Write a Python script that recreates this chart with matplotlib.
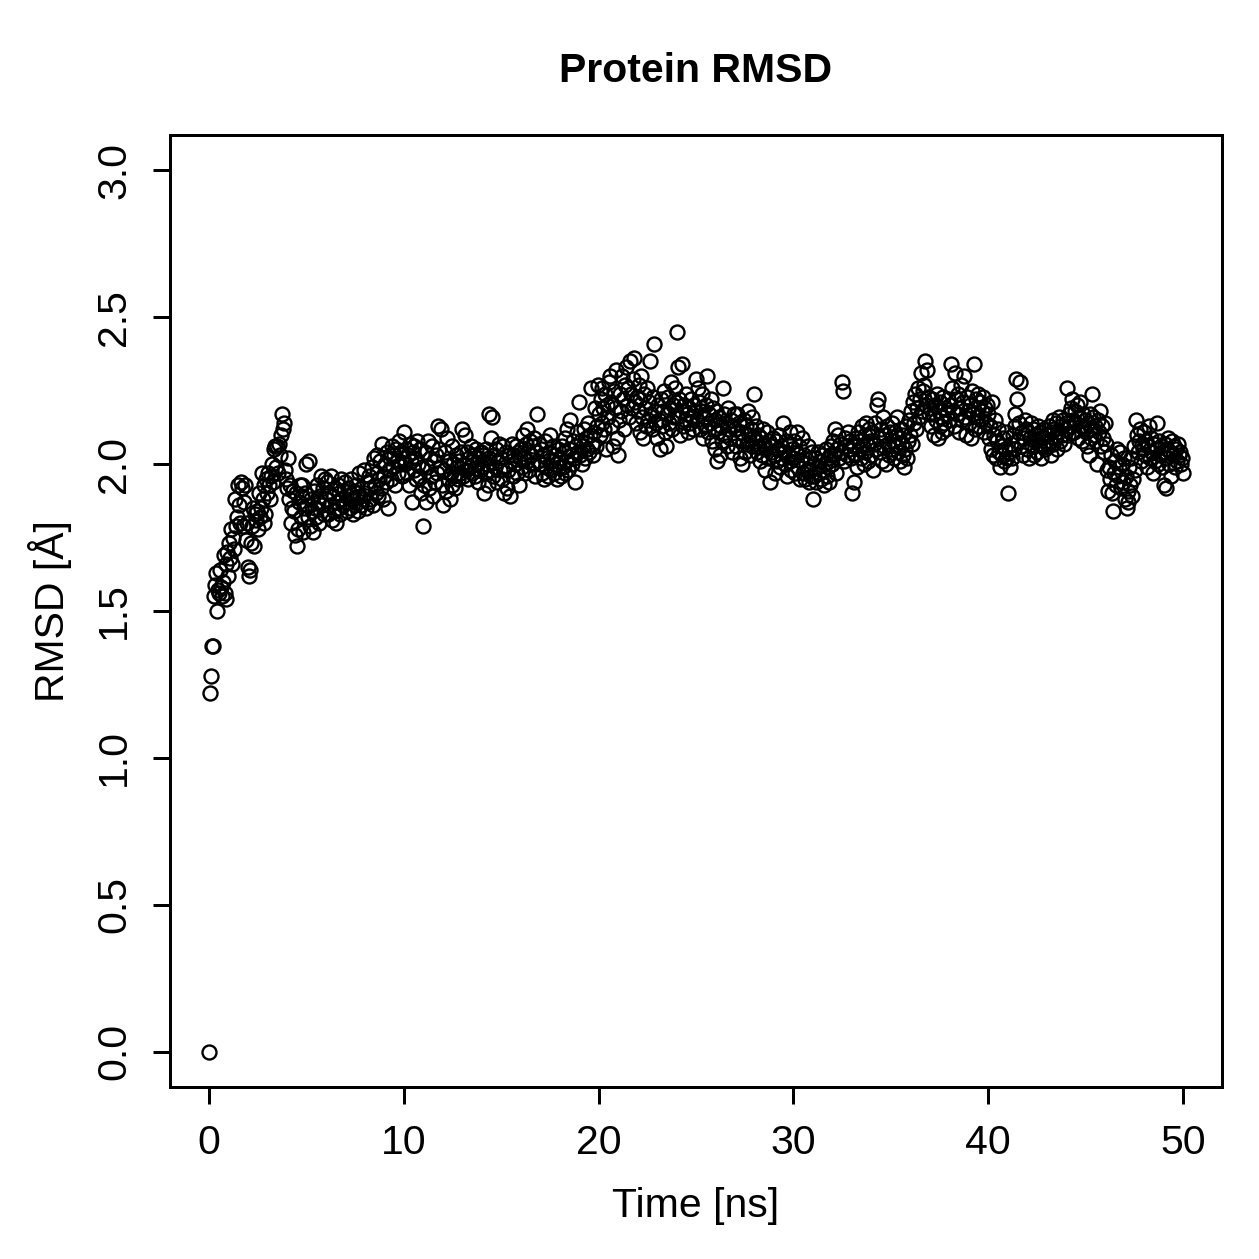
import numpy as np
import matplotlib
matplotlib.use("Agg")
import matplotlib.pyplot as plt

time_step = 0.05
rmsd_by_ns = [
    [0.00, 1.22, 1.28, 1.38, 1.38, 1.55, 1.59, 1.63, 1.50, 1.57, 1.56, 1.64, 1.58, 1.55, 1.60, 1.69, 1.56, 1.66, 1.54, 1.70],
    [1.62, 1.73, 1.68, 1.78, 1.66, 1.75, 1.71, 1.88, 1.79, 1.82, 1.93, 1.86, 1.80, 1.94, 1.92, 1.79, 1.87, 1.93, 1.74, 1.80],
    [1.65, 1.62, 1.64, 1.73, 1.79, 1.85, 1.72, 1.83, 1.81, 1.84, 1.78, 1.90, 1.82, 1.85, 1.97, 1.88, 1.80, 1.93, 1.83, 1.95],
    [1.90, 1.97, 1.93, 1.88, 1.96, 2.00, 1.94, 2.05, 2.06, 1.99, 2.06, 1.97, 2.07, 2.03, 2.10, 2.17, 2.12, 2.14, 1.98, 1.95],
    [1.92, 2.02, 1.88, 1.93, 1.80, 1.85, 1.91, 1.84, 1.76, 1.90, 1.72, 1.78, 1.87, 1.93, 1.82, 1.89, 1.93, 1.77, 1.85, 1.90],
    [2.00, 1.86, 1.82, 2.01, 1.79, 1.88, 1.84, 1.77, 1.91, 1.85, 1.82, 1.93, 1.87, 1.80, 1.89, 1.96, 1.86, 1.92, 1.83, 1.95],
    [1.88, 1.94, 1.83, 1.90, 1.86, 1.96, 1.81, 1.89, 1.84, 1.92, 1.80, 1.87, 1.93, 1.85, 1.90, 1.83, 1.95, 1.88, 1.86, 1.91],
    [1.94, 1.87, 1.84, 1.92, 1.89, 1.85, 1.95, 1.88, 1.83, 1.91, 1.86, 1.93, 1.90, 1.84, 1.97, 1.89, 1.86, 1.92, 1.88, 1.98],
    [1.90, 1.85, 1.94, 1.87, 1.96, 1.92, 1.88, 1.99, 1.86, 2.02, 1.93, 1.90, 1.97, 2.03, 1.89, 1.95, 2.01, 1.92, 2.07, 1.88],
    [1.96, 2.00, 1.94, 2.04, 1.85, 1.98, 2.02, 1.95, 2.06, 1.99, 2.03, 1.93, 2.05, 2.01, 1.97, 2.08, 2.00, 2.04, 1.96, 2.02],
    [2.11, 2.00, 2.05, 1.97, 2.03, 1.93, 2.07, 2.01, 1.87, 2.04, 1.98, 2.06, 2.02, 1.95, 2.08, 2.00, 1.96, 2.05, 1.90, 1.99],
    [1.79, 1.93, 2.04, 1.87, 1.99, 2.08, 1.92, 2.02, 1.96, 2.06, 1.89, 2.01, 1.94, 2.03, 1.97, 2.13, 2.05, 1.99, 2.12, 1.93],
    [1.86, 1.98, 2.04, 1.91, 2.09, 1.95, 2.01, 1.88, 1.97, 2.06, 1.93, 2.00, 1.96, 1.92, 2.03, 1.99, 1.95, 2.01, 1.97, 2.04],
    [2.12, 1.96, 2.00, 2.10, 1.98, 2.04, 1.95, 2.02, 1.99, 2.06, 1.97, 2.01, 2.03, 1.96, 2.05, 2.00, 1.94, 2.02, 1.98, 2.04],
    [1.99, 2.03, 1.90, 1.97, 2.05, 2.00, 1.93, 2.02, 2.17, 1.98, 2.09, 2.16, 1.96, 2.03, 1.99, 2.05, 1.94, 2.01, 2.07, 1.98],
    [2.02, 1.95, 2.06, 1.90, 1.99, 2.04, 1.92, 1.98, 2.03, 1.89, 2.01, 2.07, 1.96, 2.03, 2.00, 2.06, 1.97, 2.04, 1.93, 2.02],
    [2.05, 1.99, 2.10, 2.02, 1.97, 2.07, 2.01, 2.12, 2.04, 1.98, 2.08, 2.03, 2.00, 2.06, 2.09, 1.96, 2.04, 2.17, 2.01, 2.07],
    [2.00, 2.05, 1.97, 2.03, 1.95, 2.08, 1.99, 2.02, 1.96, 2.04, 2.10, 1.98, 2.01, 2.06, 1.97, 2.03, 2.00, 1.95, 2.05, 1.99],
    [2.02, 1.96, 2.06, 1.99, 2.04, 1.97, 2.09, 2.01, 2.12, 1.98, 2.05, 2.15, 2.03, 2.00, 2.08, 2.02, 1.94, 2.06, 2.11, 2.04],
    [2.21, 2.03, 2.08, 2.00, 2.06, 2.12, 2.02, 2.09, 2.05, 2.14, 2.04, 2.10, 2.26, 2.07, 2.03, 2.11, 2.19, 2.06, 2.13, 2.27],
    [2.17, 2.10, 2.22, 2.14, 2.26, 2.19, 2.12, 2.24, 2.05, 2.20, 2.16, 2.28, 2.30, 2.21, 2.13, 2.06, 2.25, 2.19, 2.32, 2.09],
    [2.03, 2.15, 2.24, 2.18, 2.30, 2.22, 2.12, 2.27, 2.33, 2.20, 2.26, 2.16, 2.35, 2.24, 2.19, 2.29, 2.36, 2.21, 2.14, 2.23],
    [2.18, 2.27, 2.11, 2.22, 2.30, 2.16, 2.09, 2.24, 2.19, 2.13, 2.26, 2.15, 2.21, 2.35, 2.17, 2.12, 2.23, 2.41, 2.18, 2.14],
    [2.09, 2.20, 2.15, 2.05, 2.22, 2.13, 2.18, 2.25, 2.11, 2.06, 2.17, 2.23, 2.14, 2.19, 2.28, 2.12, 2.20, 2.16, 2.26, 2.21],
    [2.45, 2.16, 2.33, 2.22, 2.10, 2.18, 2.34, 2.13, 2.20, 2.15, 2.24, 2.17, 2.11, 2.19, 2.14, 2.22, 2.16, 2.12, 2.20, 2.18],
    [2.29, 2.15, 2.26, 2.21, 2.12, 2.18, 2.24, 2.09, 2.16, 2.13, 2.20, 2.30, 2.11, 2.17, 2.14, 2.22, 2.08, 2.19, 2.12, 2.15],
    [2.05, 2.18, 2.01, 2.11, 2.16, 2.03, 2.13, 2.08, 2.26, 2.17, 2.10, 2.14, 2.06, 2.19, 2.12, 2.09, 2.15, 2.04, 2.13, 2.17],
    [2.12, 2.06, 2.17, 2.09, 2.14, 2.02, 2.11, 2.00, 2.08, 2.15, 2.04, 2.13, 2.07, 2.18, 2.10, 2.03, 2.12, 2.06, 2.16, 2.09],
    [2.24, 2.08, 2.13, 2.04, 2.10, 2.06, 2.01, 2.09, 2.03, 2.12, 2.07, 1.98, 2.05, 2.11, 2.02, 2.08, 1.94, 2.06, 2.04, 2.09],
    [2.03, 1.97, 2.08, 2.01, 2.05, 2.10, 1.99, 2.06, 2.02, 2.14, 2.04, 2.00, 2.08, 1.96, 2.03, 2.07, 2.01, 2.11, 1.98, 2.05],
    [2.02, 2.08, 1.97, 2.04, 2.11, 1.99, 2.06, 1.95, 2.01, 2.09, 1.97, 2.03, 1.95, 2.00, 1.98, 2.06, 1.94, 2.02, 1.96, 2.04],
    [1.88, 1.96, 2.02, 1.94, 1.99, 2.04, 1.97, 2.01, 1.95, 2.03, 1.98, 1.93, 2.00, 2.05, 1.96, 2.02, 1.99, 1.94, 2.03, 2.06],
    [2.00, 2.08, 2.03, 2.12, 1.97, 2.05, 2.10, 2.02, 2.07, 2.04, 2.28, 2.25, 2.01, 2.09, 2.06, 2.03, 2.11, 2.05, 2.08, 2.02],
    [1.90, 2.06, 1.94, 2.03, 2.09, 1.99, 2.11, 2.05, 2.08, 2.02, 2.13, 2.06, 2.00, 2.10, 2.04, 2.14, 2.07, 2.01, 2.12, 2.08],
    [2.03, 2.11, 1.98, 2.07, 2.14, 2.05, 2.20, 2.22, 2.09, 2.04, 2.12, 2.01, 2.16, 2.06, 2.10, 2.00, 2.13, 2.07, 2.03, 2.11],
    [2.05, 2.14, 2.08, 2.02, 2.11, 2.06, 2.16, 2.04, 2.09, 2.01, 2.12, 2.07, 2.03, 2.10, 1.99, 2.05, 2.13, 2.02, 2.08, 2.15],
    [2.10, 2.18, 2.07, 2.21, 2.14, 2.24, 2.12, 2.19, 2.26, 2.16, 2.22, 2.31, 2.18, 2.25, 2.27, 2.35, 2.20, 2.32, 2.23, 2.17],
    [2.19, 2.13, 2.22, 2.17, 2.10, 2.20, 2.15, 2.24, 2.09, 2.18, 2.13, 2.21, 2.16, 2.11, 2.23, 2.14, 2.19, 2.12, 2.17, 2.22],
    [2.15, 2.20, 2.34, 2.26, 2.18, 2.13, 2.31, 2.22, 2.17, 2.24, 2.11, 2.19, 2.27, 2.15, 2.21, 2.30, 2.16, 2.10, 2.23, 2.18],
    [2.14, 2.20, 2.09, 2.25, 2.17, 2.34, 2.12, 2.22, 2.16, 2.19, 2.24, 2.13, 2.21, 2.15, 2.18, 2.23, 2.11, 2.19, 2.14, 2.20],
    [2.17, 2.09, 2.13, 2.05, 2.21, 2.03, 2.10, 2.15, 2.02, 2.08, 2.12, 2.04, 1.99, 2.06, 2.03, 2.09, 2.01, 2.05, 2.11, 2.02],
    [1.90, 2.04, 1.99, 2.07, 2.02, 2.10, 2.05, 2.13, 2.17, 2.29, 2.22, 2.08, 2.14, 2.28, 2.06, 2.11, 2.03, 2.09, 2.15, 2.12],
    [2.05, 2.11, 2.02, 2.09, 2.14, 2.06, 2.12, 2.03, 2.08, 2.10, 2.04, 2.13, 2.07, 2.11, 2.02, 2.09, 2.06, 2.12, 2.05, 2.08],
    [2.10, 2.06, 2.13, 2.08, 2.03, 2.11, 2.15, 2.07, 2.12, 2.09, 2.14, 2.05, 2.11, 2.16, 2.08, 2.13, 2.10, 2.15, 2.07, 2.12],
    [2.14, 2.26, 2.10, 2.17, 2.13, 2.19, 2.22, 2.15, 2.11, 2.18, 2.14, 2.20, 2.09, 2.16, 2.21, 2.13, 2.08, 2.17, 2.12, 2.15],
    [2.11, 2.06, 2.14, 2.03, 2.17, 2.09, 2.12, 2.24, 2.16, 2.10, 2.13, 2.08, 2.00, 2.15, 2.11, 2.18, 2.06, 2.13, 2.09, 2.04],
    [2.14, 2.07, 1.98, 1.91, 1.99, 1.95, 2.03, 1.90, 1.84, 1.97, 2.01, 1.93, 2.05, 1.96, 1.99, 2.04, 1.92, 2.00, 1.94, 2.02],
    [1.88, 1.96, 1.85, 1.91, 1.87, 1.99, 1.93, 2.02, 1.89, 1.95, 2.06, 1.98, 2.15, 2.10, 2.04, 2.08, 2.12, 2.01, 2.07, 2.05],
    [2.11, 2.03, 2.08, 1.99, 2.06, 2.13, 2.02, 2.09, 2.04, 1.97, 2.07, 2.01, 2.05, 2.14, 2.00, 2.08, 2.03, 2.06, 1.99, 2.04],
    [1.93, 2.07, 2.02, 1.92, 2.05, 2.09, 2.00, 2.04, 1.96, 2.08, 2.03, 2.06, 1.99, 2.05, 2.01, 2.07, 2.03, 2.04, 2.00, 2.02, 1.97],
]
rmsd = np.concatenate([np.array(r) for r in rmsd_by_ns])
time_ns = np.arange(len(rmsd)) * time_step

x_ticks = [0, 10, 20, 30, 40, 50]
y_ticks = [0.0, 0.5, 1.0, 1.5, 2.0, 2.5, 3.0]

# ── style (R base graphics look) ─────────────────────────────────────────────
FS = 16.4
plt.rcParams['font.family'] = ['Liberation Sans', 'DejaVu Sans']
plt.rcParams['font.size'] = FS

DPI = 180
fig = plt.figure(figsize=(1259 / DPI, 1259 / DPI), dpi=DPI)
ax = fig.add_axes([170 / 1259, 172 / 1259, (1222 - 170) / 1259, (1124 - 172) / 1259])

ax.plot(time_ns, rmsd, 'o', ms=5.6, mfc='none', mec='black', mew=0.95)

ax.set_xlim(-2, 52)
ax.set_ylim(-0.12, 3.12)
ax.set_xticks(x_ticks)
ax.set_xticklabels([str(t) for t in x_ticks])
ax.set_yticks(y_ticks)
ax.set_yticklabels([f"{v:.1f}" for v in y_ticks], rotation=90, va='center')

for s in ax.spines.values():
    s.set_linewidth(1.2)
ax.tick_params(direction='out', length=6.8, width=1.2, pad=8, labelsize=FS)

ax.set_xlabel('Time [ns]', fontsize=FS, labelpad=10)
ax.set_ylabel('RMSD [Å]', fontsize=FS, labelpad=9)
ax.set_title('Protein RMSD', fontsize=FS, fontweight='bold', pad=21)

fig.savefig('out.png', dpi=DPI)
